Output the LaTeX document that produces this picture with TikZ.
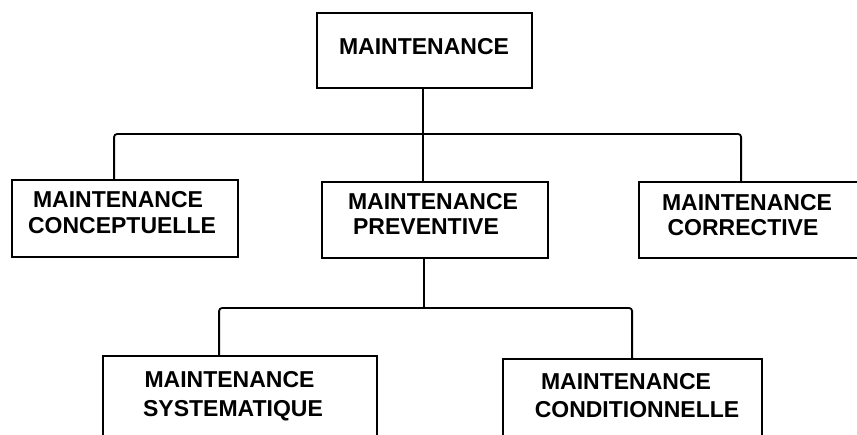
\documentclass[tikz,border=0pt]{standalone}
\usepackage{fontspec}
\setmainfont{Liberation Sans}
\begin{document}
\begin{tikzpicture}[x=1pt,y=-1pt]
\tikzset{
  box/.style={draw, rectangle, line width=1.8pt, inner sep=0pt},
  lbl/.style={anchor=base, inner sep=0pt, font=\fontsize{23}{25}\selectfont\bfseries},
  conn/.style={line width=1.8pt, rounded corners=3pt}
}
\useasboundingbox (0,0) rectangle (857,435);
\clip (0,0) rectangle (857,435);
% boxes
\node[box, minimum width=215pt, minimum height=75pt] (top) at (424.5,50.5) {};
\node[box, minimum width=226pt, minimum height=77pt] (left) at (125,218.5) {};
\node[box, minimum width=226pt, minimum height=76pt] (mid) at (435,220) {};
\node[box, minimum width=227pt, minimum height=76pt] (right) at (752.5,220) {};
\node[box, minimum width=274pt, minimum height=84pt] (bl) at (240,398) {};
\node[box, minimum width=259pt, minimum height=84pt] (br) at (632.5,401) {};
% labels
\node[lbl] (t1) at (424,55) {MAINTENANCE};
\node[lbl] (l1) at (118,208) {MAINTENANCE};
\node[lbl] (l2) at (122,234) {CONCEPTUELLE};
\node[lbl] (m1) at (433,210) {MAINTENANCE};
\node[lbl] (m2) at (426,235) {PREVENTIVE};
\node[lbl] (r1) at (747,211) {MAINTENANCE};
\node[lbl] (r2) at (743,236) {CORRECTIVE};
\node[lbl] (b1) at (229.5,388) {MAINTENANCE};
\node[lbl] (b2) at (233,417) {SYSTEMATIQUE};
\node[lbl] (c1) at (626,390) {MAINTENANCE};
\node[lbl] (c2) at (637,418) {CONDITIONNELLE};
% connectors
\coordinate (bus) at (424,134);
\path (top.south west) ++(107,0) coordinate (tA);
\path (left.north west) ++(103,0) coordinate (lA);
\path (right.north west) ++(103,0) coordinate (rA);
\draw[conn] (tA) -- (tA |- mid.north);
\draw[conn] (lA) |- (bus) -| (rA);
\coordinate (bus2) at (425,308);
\path (mid.south west) ++(103,0) coordinate (mB);
\path (bl.north west) ++(117,0) coordinate (blA);
\path (br.north west) ++(130,0) coordinate (brA);
\draw[conn] (mB) -- (mB |- bus2);
\draw[conn] (blA) |- (bus2) -| (brA);
\end{tikzpicture}
\end{document}
